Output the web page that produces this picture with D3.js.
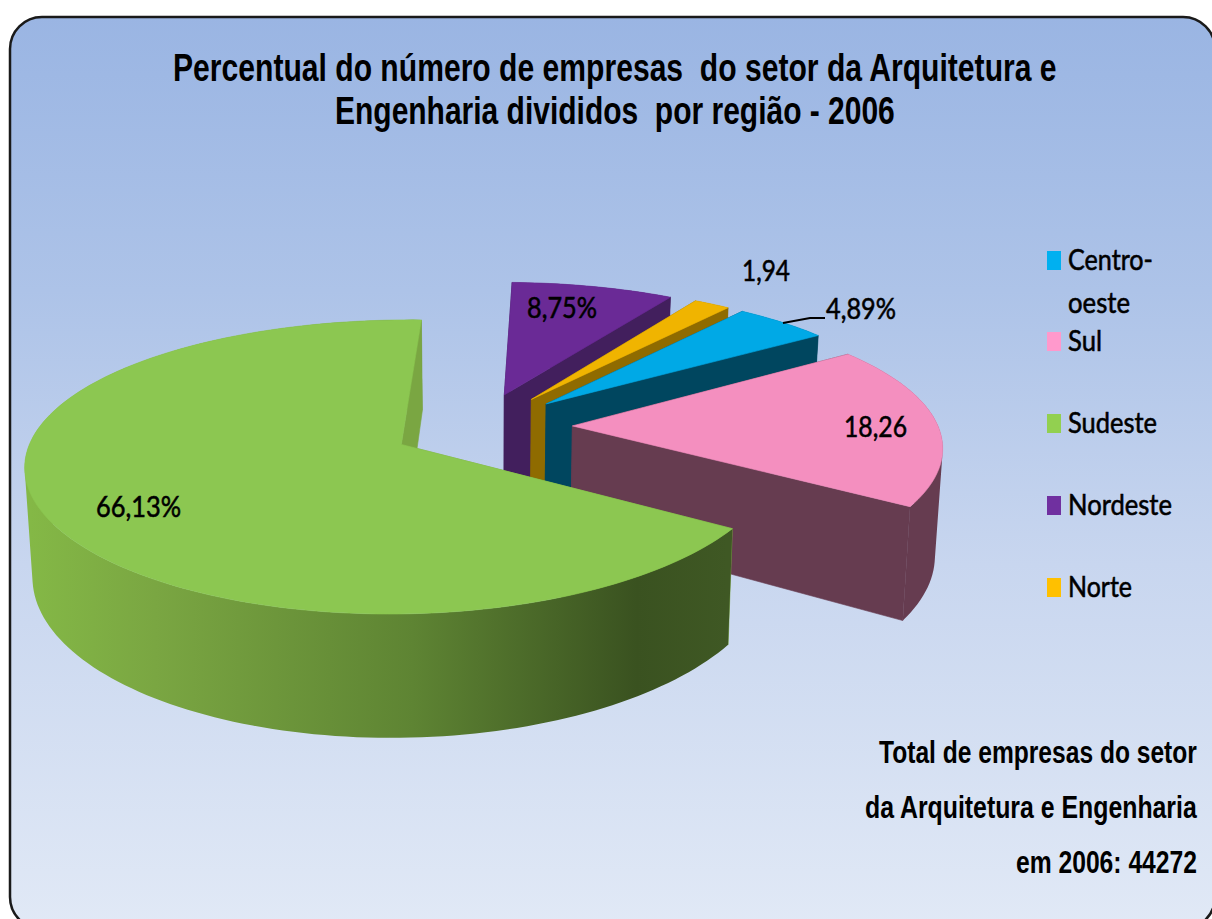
<!DOCTYPE html>
<html>
<head>
<meta charset="utf-8">
<script src="https://cdnjs.cloudflare.com/ajax/libs/d3/7.8.5/d3.min.js"></script>
<style>html,body{margin:0;padding:0;background:#fff}svg{display:block}</style>
</head>
<body>
<svg id="c" width="1212" height="919"></svg>
<script>
const categories = ["Centro-oeste", "Sul", "Sudeste", "Nordeste", "Norte"];
const values = [4.89, 18.26, 66.13, 8.75, 1.94];
const topColors = ["#00a9e6", "#f48fbf", "#8cc751", "#6a2a96", "#f0b400"];
const wallColors = ["#00465f", "#663c50", "url(#wallGreen)", "#421f5d", "#8f6b00"];
const faceColors = ["#00465f", "#663c50", "#7aa642", "#421f5d", "#8f6b00"];
const legendColors = ["#00b0f0", "#ff99cc", "#92d050", "#7030a0", "#ffc000"];
const titleLines = ["Percentual do número de empresas  do setor da Arquitetura e", "Engenharia divididos  por região - 2006"];
const noteLines = ["Total de empresas do setor", "da Arquitetura e Engenharia", "em 2006: 44272"];

const svg = d3.select("#c");
const defs = svg.append("defs");
const bg = defs.append("linearGradient").attr("id","bg").attr("x1",0).attr("y1",0).attr("x2",0).attr("y2",1);
[[0,"#9ab5e3"],[.3,"#adc3e8"],[.6,"#c8d6ef"],[1,"#e1e9f6"]].forEach(s=>bg.append("stop").attr("offset",s[0]).attr("stop-color",s[1]));
const wg = defs.append("linearGradient").attr("id","wallGreen").attr("gradientUnits","userSpaceOnUse").attr("x1",30).attr("y1",0).attr("x2",727).attr("y2",0);
[[0,"#84b846"],[.18,"#7aa642"],[.55,"#5e8433"],[.87,"#3a5220"],[1,"#3f5824"]].forEach(s=>wg.append("stop").attr("offset",s[0]).attr("stop-color",s[1]));

svg.append("rect").attr("x",10).attr("y",17).attr("width",1205).attr("height",912).attr("rx",32).attr("ry",32)
  .attr("fill","url(#bg)").attr("stroke","#1a1a1a").attr("stroke-width",2.5);

// pie geometry
const Cx = 481.5, Cy = 427, R = 366, explode = 91, k = .378, py = .00041, px = .00035;
const toRad = Math.PI/180;
const pie = d3.pie().sort(null).value(d=>d).startAngle(37.7*toRad).endAngle((37.7+360)*toRad);
const arcs = pie(values).map((a,i)=>({...a,i,mid:(a.startAngle+a.endAngle)/2}));
// the source's 3D renderer slightly distorts the angles: correction in degrees by heading
const warp = d3.scaleLinear().domain([0,36,55,122,240,360]).range([2.7,.6,.4,1.5,0,2.7]);
const warped = th=>{
  const deg = ((th/toRad)%360+360)%360;
  return th + warp(deg)*toRad;
};

const proj = (X,Y,z=0)=>{
  const x = Cx + X/(1+px*Y), y = Cy - k*Y/(1+py*Y);
  const depth = 105 - .0458*Y;
  return [Cx + (x-Cx)*(1-.017*z), y + z*depth];
};
const line = d3.line();
const sliceGeom = a=>{
  const ox = explode*Math.sin(a.mid), oy = explode*Math.cos(a.mid);
  const rim = th=>{const w=warped(th);return [ox+R*Math.sin(w), oy+R*Math.cos(w)];};
  const n = Math.max(8,Math.ceil((a.endAngle-a.startAngle)/(1.5*toRad)));
  const ths = d3.range(n+1).map(j=>a.startAngle+(a.endAngle-a.startAngle)*j/n);
  return {apex:[ox,oy],rim,ths};
};
const g = svg.append("g");
const paint = (d,fill)=>g.append("path").attr("d",d).attr("fill",fill).attr("stroke",fill).attr("stroke-width",.6);
arcs.slice().sort((a,b)=>Math.cos(b.mid)-Math.cos(a.mid)).forEach(a=>{
  const {apex,rim,ths} = sliceGeom(a);
  const s = rim(a.startAngle), e = rim(a.endAngle);
  const face = p=>line([proj(apex[0],apex[1]),proj(p[0],p[1]),proj(p[0],p[1],1),proj(apex[0],apex[1],1)])+"Z";
  paint(face(s),faceColors[a.i]);
  // one path of equally wound quads: the wall is their union, without seams
  const wall = d3.pairs(ths).map(([u,v])=>{
    const p=rim(u), q=rim(v);
    const quad=[proj(p[0],p[1]),proj(q[0],q[1]),proj(q[0],q[1],1),proj(p[0],p[1],1)];
    return line(d3.polygonArea(quad)<0?quad.reverse():quad)+"Z";
  }).join("");
  g.append("path").attr("d",wall).attr("fill",wallColors[a.i]).attr("fill-rule","nonzero");
  paint(face(e),faceColors[a.i]);
  const topPts = ths.map(t=>{const p=rim(t);return proj(p[0],p[1]);});
  paint(line([proj(apex[0],apex[1])].concat(topPts))+"Z",topColors[a.i]);
});

// text is fitted to its width with a horizontal scale
const text = (s,x,y,fs,w,opts={})=>{
  const t = svg.append("text").attr("font-size",fs)
    .attr("font-family",opts.family||"Lato").attr("font-weight",opts.weight||"normal").attr("fill","#000")
    .attr("xml:space","preserve").style("white-space","pre").text(s);
  if(opts.stroke) t.attr("stroke","#000").attr("stroke-width",opts.stroke);
  const natural = t.node().getComputedTextLength();
  t.attr("transform",`translate(${x},${y}) scale(${w/natural},1)`);
  return t;
};
const arial = {family:"Liberation Sans",weight:"bold"};
const lato = {stroke:.55};
text(titleLines[0],173,81,38,884,arial);
text(titleLines[1],335,124,38,560,arial);
[[879,763,318],[865,818,332],[1016,873,181]].forEach((d,i)=>text(noteLines[i],d[0],d[1],31,d[2],arial));

// legend
const legendRows = [
  {i:0,lines:[["Centro-",270,85],["oeste",313,62]],y:251},
  {i:1,lines:[["Sul",351,34]],y:332},
  {i:2,lines:[["Sudeste",433,89]],y:414},
  {i:3,lines:[["Nordeste",515,104]],y:496},
  {i:4,lines:[["Norte",597,64]],y:578}
];
legendRows.forEach(r=>{
  svg.append("rect").attr("x",1047).attr("y",r.y).attr("width",14).attr("height",19).attr("fill",legendColors[r.i]);
  r.lines.forEach(l=>text(l[0],1068,l[1],28,l[2],lato));
});

// data labels
const fmt = (v,i)=>{
  const s = d3.format(".2f")(v).replace(".",",");
  return (categories[i]==="Sul"||categories[i]==="Norte") ? s : s+"%";
};
const labelPos = {"Centro-oeste":[826,319,70],"Sul":[844,437,63],"Sudeste":[96,517,85],"Nordeste":[527,318,70],"Norte":[742,281,48]};
categories.forEach((c,i)=>{const p=labelPos[c];text(fmt(values[i],i),p[0],p[1],28,p[2],lato);});
svg.append("path").attr("d","M783,323L810,318L825,318").attr("fill","none").attr("stroke","#000").attr("stroke-width",2);
</script>
</body>
</html>
